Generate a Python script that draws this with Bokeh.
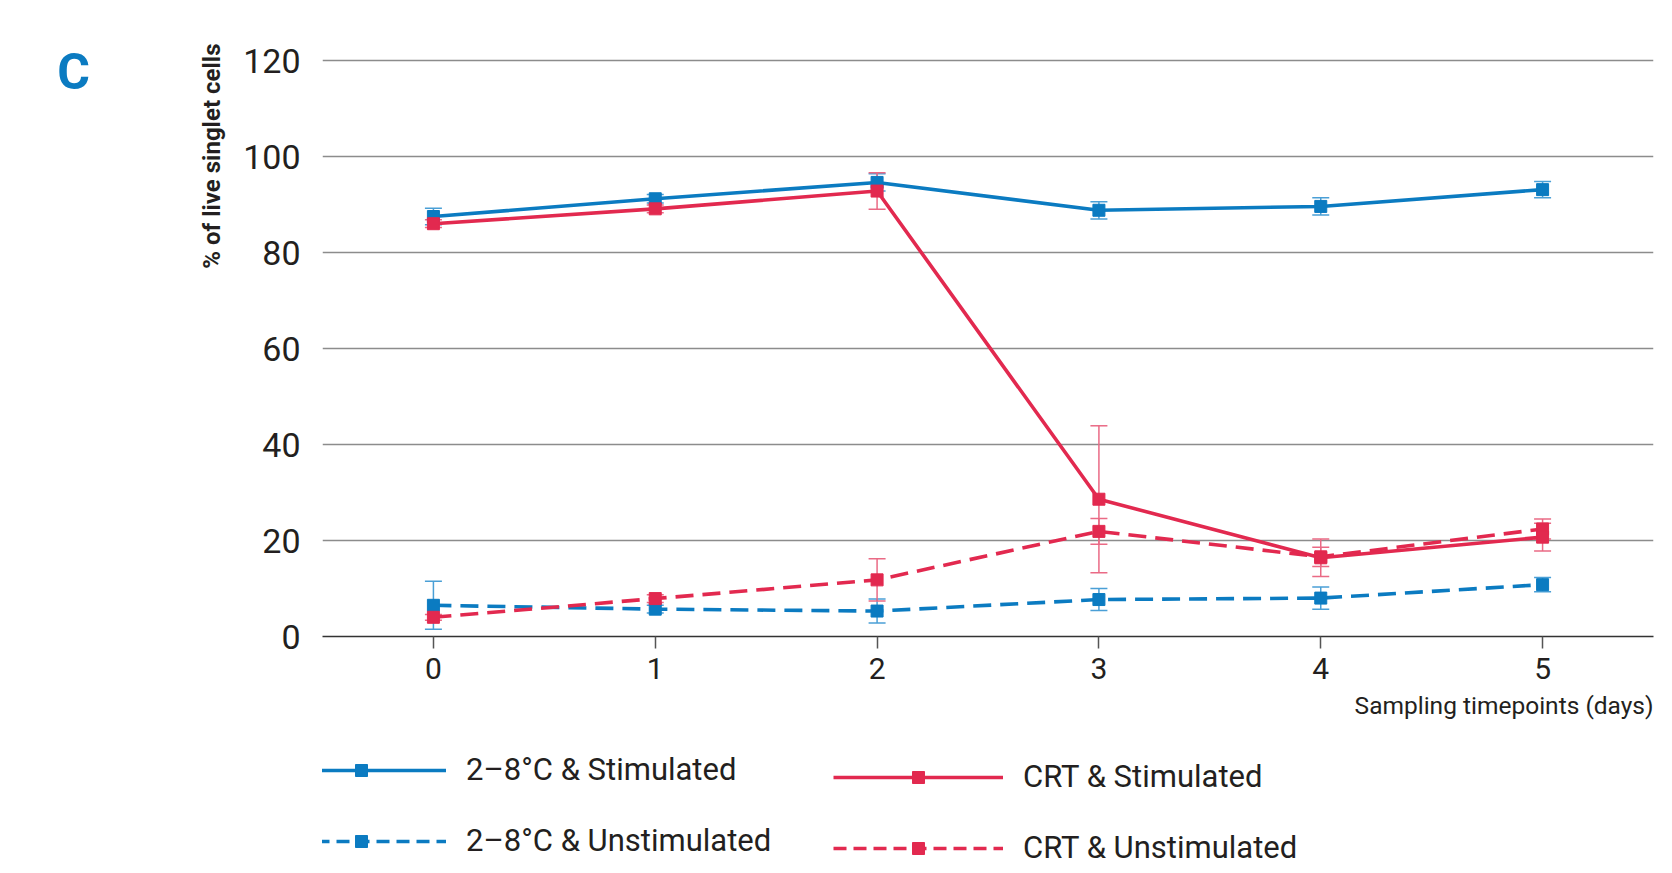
from bokeh.plotting import figure
from bokeh.layouts import column
from bokeh.models import (Range1d, FixedTicker, Whisker, TeeHead, ColumnDataSource,
                          Legend, LegendItem, Label, Title)
from bokeh.embed import file_html
from bokeh.resources import INLINE

# ---- data ----
days = [0, 1, 2, 3, 4, 5]
cold_stim = [87.5, 91.2, 94.6, 88.8, 89.6, 93.1]
cold_stim_err = [1.7, 0.9, 1.8, 1.8, 1.8, 1.7]
cold_unstim = [6.5, 5.7, 5.3, 7.7, 8.0, 10.8]
cold_unstim_err = [5.0, 0.8, 2.5, 2.3, 2.3, 1.5]
crt_stim = [86.0, 89.1, 92.8, 28.6, 16.4, 20.7]
crt_stim_err = [0.8, 0.8, 3.8, 15.3, 3.9, 2.9]
crt_unstim = [4.0, 7.9, 11.8, 21.9, 16.6, 22.4]
crt_unstim_err = [0.6, 0.8, 4.4, 2.7, 2.0, 2.1]
y_ticks = [0, 20, 40, 60, 80, 100, 120]
x_ticks = days

BLUE = "#0b7bc1"
RED = "#e2294f"
BLUE_ERR = "#4a9fd6"
RED_ERR = "#ea6a85"
TXT = "#231f20"
FONT = "Roboto"

p = figure(width=1664, height=730, output_backend="svg", toolbar_location=None,
           x_range=Range1d(-0.5, 5.5), y_range=Range1d(0, 120.42),
           min_border_left=322, min_border_right=11, min_border_top=58,
           min_border_bottom=94)
p.outline_line_color = None
p.background_fill_color = "white"
p.border_fill_color = "white"

# grid
p.xgrid.grid_line_color = None
p.ygrid.grid_line_color = "#8c8c8c"
p.ygrid.grid_line_width = 1.5
p.ygrid.ticker = FixedTicker(ticks=y_ticks)

# y axis
p.yaxis.ticker = FixedTicker(ticks=y_ticks)
p.yaxis.axis_line_color = None
p.yaxis.major_tick_line_color = None
p.yaxis.minor_tick_line_color = None
p.yaxis.major_label_text_font = FONT
p.yaxis.major_label_text_font_size = "34px"
p.yaxis.major_label_text_color = TXT
p.yaxis.major_label_standoff = 16

# x axis
p.xaxis.ticker = FixedTicker(ticks=x_ticks)
p.xaxis.axis_line_color = "#333333"
p.xaxis.axis_line_width = 1.5
p.xaxis.major_tick_line_color = "#555555"
p.xaxis.major_tick_line_width = 1.5
p.xaxis.major_tick_out = 12
p.xaxis.major_tick_in = 0
p.xaxis.minor_tick_line_color = None
p.xaxis.major_label_text_font = FONT
p.xaxis.major_label_text_font_size = "30px"
p.xaxis.major_label_text_color = TXT
p.xaxis.major_label_standoff = 9

series = [
    ("2–8°C & Stimulated", cold_stim, cold_stim_err, BLUE, BLUE_ERR, "solid"),
    ("2–8°C & Unstimulated", cold_unstim, cold_unstim_err, BLUE, BLUE_ERR, "18 9"),
    ("CRT & Unstimulated", crt_unstim, crt_unstim_err, RED, RED_ERR, "18 9"),
    ("CRT & Stimulated", crt_stim, crt_stim_err, RED, RED_ERR, "solid"),
]
sources = {}
style = {}
for name, vals, errs, col, ecol, dash in series:
    src = ColumnDataSource(dict(x=days, y=vals,
                                upper=[v + e for v, e in zip(vals, errs)],
                                lower=[v - e for v, e in zip(vals, errs)]))
    w = Whisker(base="x", upper="upper", lower="lower", source=src, dimension="height",
                line_color=ecol, line_width=1.5,
                upper_head=TeeHead(size=17, line_color=ecol, line_width=1.5),
                lower_head=TeeHead(size=17, line_color=ecol, line_width=1.5))
    p.add_layout(w)
    p.line("x", "y", source=src, line_color=col, line_width=3.6, line_dash=dash)
    p.scatter("x", "y", source=src, marker="square", size=12,
              fill_color=col, line_color=col)
    sources[name] = src
    style[name] = (col, "solid" if dash == "solid" else "13 7")

# x-axis label (right aligned, below axis)
p.add_layout(Title(text="Sampling timepoints (days)", align="right",
                   text_font=FONT, text_font_size="24.5px", text_font_style="normal",
                   text_color=TXT, standoff=15), "below")

# y-axis label (top aligned, left of tick labels)
p.add_layout(Title(text="% of live singlet cells", align="right", offset=-15,
                   text_font=FONT, text_font_size="24px", text_font_style="bold",
                   text_color=TXT, standoff=29), "left")

# panel letter
p.add_layout(Label(x=-75, y=565, x_units="screen", y_units="screen", text="C",
                   text_font=FONT, text_font_size="50px", text_font_style="bold",
                   text_color=BLUE, text_align="center", text_baseline="middle"), "left")

# ---- legend strip (hidden copies of the series supply the legend glyphs) ----
lg = figure(width=1664, height=140, output_backend="svg", toolbar_location=None,
            x_range=Range1d(-0.5, 5.5), y_range=Range1d(0, 120.42),
            x_axis_location=None, y_axis_location=None, min_border=0)
lg.outline_line_color = None
lg.xgrid.visible = False
lg.ygrid.visible = False

def item(name):
    col, dash = style[name]
    src = sources[name]
    r1 = lg.line("x", "y", source=src, line_color=col, line_width=3.6,
                 line_dash=dash, visible=False)
    r2 = lg.scatter("x", "y", source=src, marker="square", size=12,
                    fill_color=col, line_color=col, visible=False)
    return LegendItem(label=name, renderers=[r1, r2])

def make_legend(names, loc):
    return Legend(items=[item(n) for n in names], location=loc, orientation="vertical",
                  padding=0, margin=0, spacing=34,
                  glyph_width=170, glyph_height=30, label_height=36,
                  label_standoff=20, label_text_font=FONT,
                  label_text_font_size="31px", label_text_color=TXT,
                  inactive_fill_alpha=0,
                  border_line_alpha=0, background_fill_alpha=0)

lg.add_layout(make_legend(["2–8°C & Stimulated", "2–8°C & Unstimulated"], (-46, 11)))
lg.add_layout(make_legend(["CRT & Stimulated", "CRT & Unstimulated"], (511, 4)))

layout = column(p, lg, spacing=0)
open("out.html", "w").write(file_html(layout, INLINE))
